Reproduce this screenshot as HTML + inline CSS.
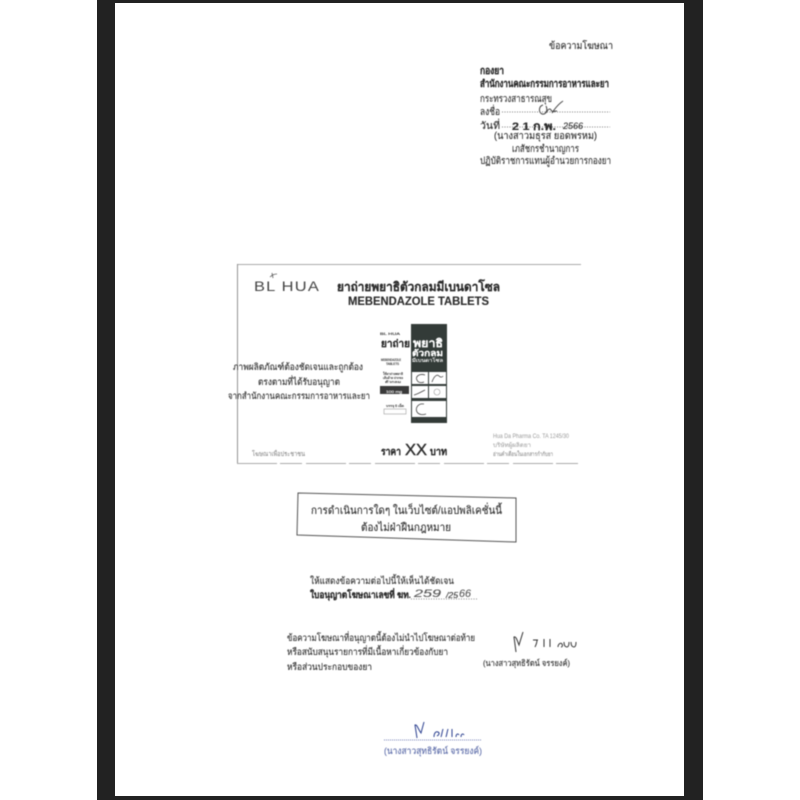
<!DOCTYPE html>
<html>
<head>
<meta charset="utf-8">
<style>
html,body{margin:0;padding:0;background:#fff;width:800px;height:800px;overflow:hidden}
svg{display:block}
text{font-family:"Liberation Sans","Noto Sans CJK SC",sans-serif;fill:#2c2c2c;stroke:#2c2c2c;stroke-width:.12}
.c{filter:blur(.4px)}
.w{fill:#fff;stroke:#fff}
.l{fill:#999;stroke:none}
.m{fill:#777;stroke:none}
.b{fill:#5a6aa8;stroke:#5a6aa8}
</style>
</head>
<body>
<svg width="800" height="800" viewBox="0 0 800 800" xmlns="http://www.w3.org/2000/svg">
<rect x="97" y="0" width="606" height="800" fill="#222"/>
<rect x="115" y="3" width="569" height="793" fill="#fff"/>
<g class="c">
<text x="549" y="49" font-size="10" textLength="64" lengthAdjust="spacingAndGlyphs">ข้อความโฆษณา</text>
<text x="480" y="74" font-size="10" font-weight="bold" textLength="24" lengthAdjust="spacingAndGlyphs">กองยา</text>
<text x="480" y="87" font-size="10" font-weight="bold" textLength="129" lengthAdjust="spacingAndGlyphs">สำนักงานคณะกรรมการอาหารและยา</text>
<text x="480" y="102" font-size="10" textLength="72" lengthAdjust="spacingAndGlyphs">กระทรวงสาธารณสุข</text>
<text x="480" y="115" font-size="10" textLength="20" lengthAdjust="spacingAndGlyphs">ลงชื่อ</text>
<line x1="502" y1="112" x2="610" y2="112" stroke="#555" stroke-width=".8" stroke-dasharray="1 1.5"/>
<path d="M543 105c-4 1-5 7-1 9 4 1 6-4 4-8M546 113c2-4 4-5 5-3 1 2 2 2 3 0 3-4 6-7 9-9M552 113c1-2 3-2 5-2" fill="none" stroke="#444" stroke-width="1"/>
<text x="480" y="129" font-size="10" textLength="20" lengthAdjust="spacingAndGlyphs">วันที่</text>
<line x1="502" y1="127" x2="610" y2="127" stroke="#555" stroke-width=".8" stroke-dasharray="1 1.5"/>
<text x="512" y="130" font-size="11" font-weight="bold" textLength="44" lengthAdjust="spacingAndGlyphs">2 1 ก.พ.</text>
<text x="563" y="129" font-size="9" font-style="italic" textLength="20" lengthAdjust="spacingAndGlyphs">2566</text>
<text x="494" y="139" font-size="10" textLength="103" lengthAdjust="spacingAndGlyphs">(นางสาวมธุรส ยอดพรหม)</text>
<text x="512" y="152" font-size="10" textLength="67" lengthAdjust="spacingAndGlyphs">เภสัชกรชำนาญการ</text>
<text x="480" y="164" font-size="10" textLength="131" lengthAdjust="spacingAndGlyphs">ปฏิบัติราชการแทนผู้อำนวยการกองยา</text>

<path d="M237 264.500H581" fill="none" stroke="#aaa" stroke-width=".9"/>
<path d="M237.500 264V463" fill="none" stroke="#888" stroke-width=".9"/>
<path d="M237 463.500H581" fill="none" stroke="#aaa" stroke-width=".9" stroke-dasharray="40 3 22 4"/>
<path d="M270 277c2-2 4-3 7-3M272 273l1 5" fill="none" stroke="#555" stroke-width=".8"/>
<text x="254" y="291" font-size="13.500" textLength="66" lengthAdjust="spacingAndGlyphs" style="fill:#444;stroke:none;letter-spacing:1px">BL HUA</text>
<text x="337" y="291" font-size="12.500" font-weight="bold" textLength="163" lengthAdjust="spacingAndGlyphs">ยาถ่ายพยาธิตัวกลมมีเบนดาโซล</text>
<text x="348" y="305" font-size="11.500" font-weight="bold" textLength="141" lengthAdjust="spacingAndGlyphs">MEBENDAZOLE TABLETS</text>

<text x="380" y="335" font-size="4" textLength="20" lengthAdjust="spacingAndGlyphs">BL HUA</text>
<text x="381" y="347" font-size="10" font-weight="bold" textLength="29" lengthAdjust="spacingAndGlyphs">ยาถ่าย</text>
<rect x="411" y="324" width="36" height="99" fill="#333b38"/>
<text x="413" y="347" font-size="11" font-weight="bold" textLength="30" lengthAdjust="spacingAndGlyphs" class="w">พยาธิ</text>
<text x="412" y="356" font-size="9" font-weight="bold" textLength="31" lengthAdjust="spacingAndGlyphs" class="w">ตัวกลม</text>
<text x="412" y="362" font-size="5" textLength="31" lengthAdjust="spacingAndGlyphs" class="w">มีเบนดาโซล</text>
<rect x="412" y="372" width="16" height="12" fill="#fff"/><rect x="429" y="372" width="17" height="12" fill="#fff"/>
<rect x="412" y="386" width="16" height="12" fill="#fff"/><rect x="429" y="386" width="17" height="12" fill="#fff"/>
<rect x="412" y="401" width="34" height="16" fill="#fff"/>
<path d="M425 375c-6-2-10 2-8 5 1 3 5 3 7 2M432 382c2-6 5-8 7-6 1 1 3 2 4 0M414 395c4-1 7-3 11-5M424 404c-6-1-9 4-7 8 2 3 6 3 9 2" fill="none" stroke="#444" stroke-width=".8"/>
<circle cx="437" cy="392" r="3" fill="none" stroke="#999" stroke-width=".6"/>
<text x="381" y="361" font-size="3.500" textLength="20" lengthAdjust="spacingAndGlyphs">MEBENDAZOLE</text>
<text x="386" y="365" font-size="3.500" textLength="13" lengthAdjust="spacingAndGlyphs">TABLETS</text>
<text x="383" y="375" font-size="3.500" textLength="20" lengthAdjust="spacingAndGlyphs">ใช้ยาถ่ายพยาธิ</text>
<text x="383" y="379" font-size="3.500" textLength="20" lengthAdjust="spacingAndGlyphs">เส้นด้าย ปากขอ</text>
<text x="385" y="383" font-size="3.500" textLength="16" lengthAdjust="spacingAndGlyphs">ตัวกลม</text>
<rect x="380" y="386" width="29" height="8" fill="#3a3a3a"/>
<text x="386" y="393" font-size="4" textLength="16" lengthAdjust="spacingAndGlyphs" class="w">100 mg</text>
<text x="386" y="407" font-size="3.500" textLength="18" lengthAdjust="spacingAndGlyphs">บรรจุ 6 เม็ด</text>
<rect x="384" y="409" width="22" height="5" fill="none" stroke="#888" stroke-width=".5"/>

<text x="233" y="370" font-size="9.500" textLength="130" lengthAdjust="spacingAndGlyphs">ภาพผลิตภัณฑ์ต้องชัดเจนและถูกต้อง</text>
<text x="258" y="385" font-size="9.500" textLength="82" lengthAdjust="spacingAndGlyphs">ตรงตามที่ได้รับอนุญาต</text>
<text x="228" y="399" font-size="9.500" textLength="142" lengthAdjust="spacingAndGlyphs">จากสำนักงานคณะกรรมการอาหารและยา</text>

<text x="252" y="456" font-size="6.500" class="m" textLength="53" lengthAdjust="spacingAndGlyphs">โฆษณาเพื่อประชาชน</text>
<text x="381" y="455" font-size="10" font-weight="bold" textLength="20" lengthAdjust="spacingAndGlyphs">ราคา</text>
<text x="405" y="455" font-size="16" textLength="22" lengthAdjust="spacingAndGlyphs" style="stroke-width:.4">XX</text>
<text x="430" y="455" font-size="10" font-weight="bold" textLength="17" lengthAdjust="spacingAndGlyphs">บาท</text>
<text x="493" y="438" font-size="6" class="l" textLength="76" lengthAdjust="spacingAndGlyphs">Hua Da Pharma Co. TA 1245/30</text>
<text x="493" y="447" font-size="6" class="l" textLength="38" lengthAdjust="spacingAndGlyphs">บริษัทผู้ผลิตยา</text>
<text x="493" y="456" font-size="6" class="m" textLength="60" lengthAdjust="spacingAndGlyphs">อ่านคำเตือนในเอกสารกำกับยา</text>

<path d="M298 493L516 498L516 542L297 535Z" fill="none" stroke="#555" stroke-width="1"/>
<text x="311" y="514" font-size="11" textLength="191" lengthAdjust="spacingAndGlyphs">การดำเนินการใดๆ ในเว็บไซต์/แอปพลิเคชั่นนี้</text>
<text x="361" y="531" font-size="11" textLength="90" lengthAdjust="spacingAndGlyphs">ต้องไม่ฝ่าฝืนกฎหมาย</text>

<text x="310" y="584" font-size="9.500" textLength="144" lengthAdjust="spacingAndGlyphs">ให้แสดงข้อความต่อไปนี้ให้เห็นได้ชัดเจน</text>
<text x="310" y="598" font-size="9.500" font-weight="bold" textLength="101" lengthAdjust="spacingAndGlyphs">ใบอนุญาตโฆษณาเลขที่ ฆท.</text>
<line x1="411" y1="599" x2="478" y2="599" stroke="#666" stroke-width=".8" stroke-dasharray="1 1.500"/>
<text x="414" y="597" font-size="11" font-style="italic" textLength="27" lengthAdjust="spacingAndGlyphs" style="fill:#555;stroke:#555">259</text>
<text x="446" y="598" font-size="8" font-style="italic" textLength="12" lengthAdjust="spacingAndGlyphs">/25</text>
<text x="459" y="597" font-size="11" font-style="italic" textLength="12" lengthAdjust="spacingAndGlyphs" style="fill:#555;stroke:#555">66</text>

<text x="287" y="641" font-size="9.500" textLength="188" lengthAdjust="spacingAndGlyphs">ข้อความโฆษณาที่อนุญาตนี้ต้องไม่นำไปโฆษณาต่อท้าย</text>
<text x="287" y="655" font-size="9.500" textLength="161" lengthAdjust="spacingAndGlyphs">หรือสนับสนุนรายการที่มีเนื้อหาเกี่ยวข้องกับยา</text>
<text x="287" y="670" font-size="9.500" textLength="85" lengthAdjust="spacingAndGlyphs">หรือส่วนประกอบของยา</text>

<path d="M516 652L514 637C516 636 517 640 519 645L523 632M533 640h5M537 640c0 3-1 5-2 7M544 639v8M550 639v8M558 647c0-3 3-5 4-3 1 2 0 3-1 3M564 642c0 3 1 5 3 5 2 0 2-3 2-5M571 642c0 3 1 5 3 5s2-3 2-5" fill="none" stroke="#333" stroke-width="1"/>
<text x="483" y="666" font-size="8.500" textLength="87" lengthAdjust="spacingAndGlyphs">(นางสาวสุทธิรัตน์ จรรยงค์)</text>

<path d="M417 738L415 725C417 724 418 729 421 733L424 722M434 737c0-4 2-6 4-5s1 3-1 4M441 737c1-3 1-5 2-8M446 737c1-3 1-5 2-8M452 729v8M456 737c0-3 2-4 3-2M461 737c0-3 2-4 3-2" fill="none" stroke="#2a3f8f" stroke-width="1"/>
<line x1="384" y1="740" x2="482" y2="740" stroke="#7a86b8" stroke-width=".9" stroke-dasharray="1 1"/>
<text x="384" y="754" font-size="9.500" textLength="98" lengthAdjust="spacingAndGlyphs" class="b">(นางสาวสุทธิรัตน์ จรรยงค์)</text>
</g>
</svg>
</body>
</html>
